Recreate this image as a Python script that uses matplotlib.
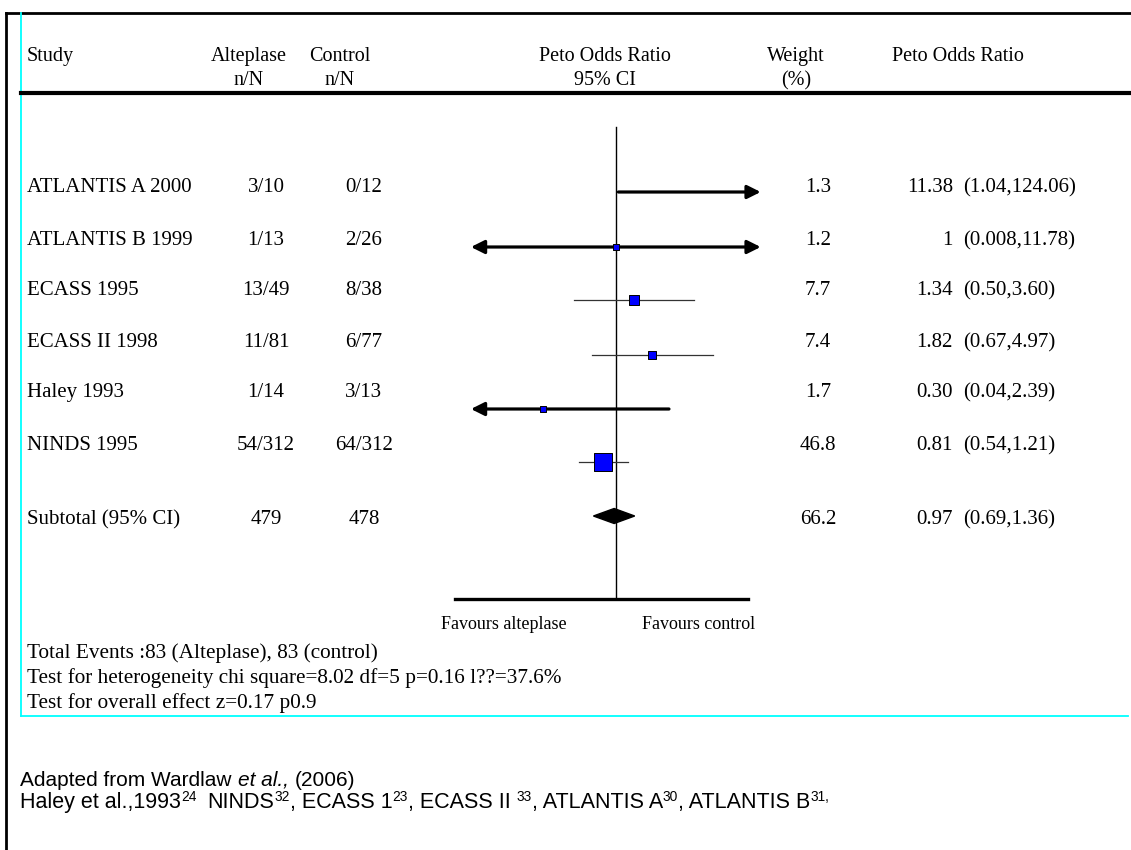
import numpy as np
import matplotlib.pyplot as plt
from matplotlib.patches import Polygon

plt.rcParams['font.family'] = ['Liberation Serif', 'DejaVu Serif']

# %% data
studies = ['ATLANTIS A 2000', 'ATLANTIS B 1999', 'ECASS 1995', 'ECASS II 1998', 'Haley 1993', 'NINDS 1995']
alteplase = ['3/10', '1/13', '13/49', '11/81', '1/14', '54/312']
control = ['0/12', '2/26', '8/38', '6/77', '3/13', '64/312']
weights = [1.3, 1.2, 7.7, 7.4, 1.7, 46.8]
odds = [11.38, 1.0, 1.34, 1.82, 0.30, 0.81]
ci_lo = [1.04, 0.008, 0.50, 0.67, 0.04, 0.54]
ci_hi = [124.06, 11.78, 3.60, 4.97, 2.39, 1.21]
odds_txt = ['11.38', '1', '1.34', '1.82', '0.30', '0.81']
ci_txt = ['(1.04,124.06)', '(0.008,11.78)', '(0.50,3.60)', '(0.67,4.97)', '(0.04,2.39)', '(0.54,1.21)']

total_alt = 479
total_ctl = 478
total_weight = 66.2
total_or = 0.97
total_lo = 0.69
total_hi = 1.36

footer = ['Total Events :83 (Alteplase), 83 (control)',
          'Test for heterogeneity chi square=8.02 df=5 p=0.16 l??=37.6%',
          'Test for overall effect z=0.17 p0.9']

# source lines: (text, kind, gap after in px)
source_line1 = [('Adapted from Wardlaw', 'normal', 6), ('et al.,', 'italic', 6), ('(2006)', 'normal', 0)]
source_line2 = [('Haley et al.,1993', 'normal', 0), ('24', 'sup', 11), ('NINDS', 'normal', 0), ('32', 'sup', 0),
                (', ECASS 1', 'normal', 0), ('23', 'sup', 0), (', ECASS II', 'normal', 6), ('33', 'sup', 0),
                (', ATLANTIS A', 'normal', 0), ('30', 'sup', 0), (', ATLANTIS B', 'normal', 0), ('31,', 'sup', 0)]

# %% layout (pixels)
W, H = 1131, 850
row_base_y = [192, 245, 295, 347, 397, 450]
row_line_y = [192, 247, 300, 355, 409, 462]
sub_base_y = 524
sub_line_y = 516
ctr_px = 616       # x pixel of OR = 1
px_per_dec = 140   # pixels per decade on the log scale
clip_lo, clip_hi = 0.092, 10.8
fs = 15
fs_head = 14.5

fig = plt.figure(figsize=(W / 100, H / 100), dpi=100)
ax = fig.add_axes([0, 0, 1, 1])
ax.set_xlim(0, W)
ax.set_ylim(H, 0)
ax.axis('off')

# frames
ax.plot([6, 6], [13, H], color='black', lw=2)
ax.plot([6, W], [13, 13], color='black', lw=2)
ax.plot([21, 21], [13, 716], color='#00FFFF', lw=1.3)
ax.plot([21, 1128], [716, 716], color='#00FFFF', lw=1.3)
ax.plot([21, W], [93, 93], color='black', lw=3)

# header
ax.text(27, 61, 'Study', fontsize=fs_head, va='baseline')
for x, t1, t2 in [(249, 'Alteplase', 'n/N'), (340, 'Control', 'n/N'),
                  (605, 'Peto Odds Ratio', '95% CI'), (796, 'Weight', '(%)'),
                  (958, 'Peto Odds Ratio', '')]:
    ax.text(x, 61, t1, fontsize=fs_head, ha='center', va='baseline')
    ax.text(x, 85, t2, fontsize=fs_head, ha='center', va='baseline')

# table rows
for i, y in enumerate(row_base_y):
    ax.text(27, y, studies[i], fontsize=fs, va='baseline')
    ax.text(266, y, alteplase[i], fontsize=fs, ha='center', va='baseline')
    ax.text(364, y, control[i], fontsize=fs, ha='center', va='baseline')
    ax.text(818, y, f'{weights[i]:.1f}', fontsize=fs, ha='center', va='baseline')
    ax.text(953, y, odds_txt[i], fontsize=fs, ha='right', va='baseline')
    ax.text(963, y, ci_txt[i], fontsize=fs, ha='left', va='baseline')

ax.text(27, sub_base_y, 'Subtotal (95% CI)', fontsize=fs, va='baseline')
ax.text(266, sub_base_y, str(total_alt), fontsize=fs, ha='center', va='baseline')
ax.text(364, sub_base_y, str(total_ctl), fontsize=fs, ha='center', va='baseline')
ax.text(818, sub_base_y, f'{total_weight:.1f}', fontsize=fs, ha='center', va='baseline')
ax.text(953, sub_base_y, f'{total_or:.2f}', fontsize=fs, ha='right', va='baseline')
ax.text(963, sub_base_y, f'({total_lo:.2f},{total_hi:.2f})', fontsize=fs, ha='left', va='baseline')

for k, t in enumerate(footer):
    ax.text(27, 658 + 25 * k, t, fontsize=15.3, va='baseline')

# source lines in sans, drawn piece by piece for italics / superscripts
renderer = fig.canvas.get_renderer()


def draw_runs(x, y, parts, size):
    for text, kind, gap in parts:
        if kind == 'sup':
            t = ax.text(x, y - 7, text, fontsize=size * 0.64, family='Liberation Sans', va='baseline')
        else:
            t = ax.text(x, y, text, fontsize=size, family='Liberation Sans', va='baseline', style=kind)
        x = t.get_window_extent(renderer=renderer).x1 + gap


draw_runs(20, 786, source_line1, 15)
draw_runs(20, 808, source_line2, 15.5)

# %% forest plot on a log axis
x0, x1 = 430, 790
fa = fig.add_axes([x0 / W, 0, (x1 - x0) / W, 1])
fa.set_xscale('log')
fa.set_xlim(10 ** ((x0 - ctr_px) / px_per_dec), 10 ** ((x1 - ctr_px) / px_per_dec))
fa.set_ylim(H, 0)
fa.axis('off')

fa.plot([1, 1], [127, 599], color='black', lw=1)
fa.plot([10 ** ((455 - ctr_px) / px_per_dec), 10 ** ((748 - ctr_px) / px_per_dec)], [599, 599],
        color='black', lw=2.4)

for i, y in enumerate(row_line_y):
    lo, hi = ci_lo[i], ci_hi[i]
    if lo < clip_lo or hi > clip_hi:
        if lo < clip_lo and hi > clip_hi:
            style = '<|-|>'
        elif lo < clip_lo:
            style = '<|-'
        else:
            style = '-|>'
        fa.annotate('', xy=(min(hi, clip_hi), y), xytext=(max(lo, clip_lo), y),
                    arrowprops=dict(arrowstyle=style, color='black', lw=2.3,
                                    mutation_scale=20, shrinkA=0, shrinkB=0))
    else:
        fa.plot([lo, hi], [y, y], color='#333333', lw=0.9)
    if clip_lo < odds[i] < clip_hi:
        side = 3 + 2.2 * np.sqrt(weights[i])
        fa.scatter([odds[i]], [y], marker='s', s=(side * 0.72) ** 2, color='#0000FF',
                   edgecolor='black', linewidths=0.7, zorder=3)

fa.add_patch(Polygon([(total_lo, sub_line_y), (total_or, sub_line_y - 7.5),
                      (total_hi, sub_line_y), (total_or, sub_line_y + 7.5)],
                     closed=True, color='black', zorder=3))

fa.text(10 ** ((504 - ctr_px) / px_per_dec), 629, 'Favours alteplase', fontsize=13, ha='center', va='baseline')
fa.text(10 ** ((699 - ctr_px) / px_per_dec), 629, 'Favours control', fontsize=13, ha='center', va='baseline')

fig.savefig('out.png', dpi=100)
